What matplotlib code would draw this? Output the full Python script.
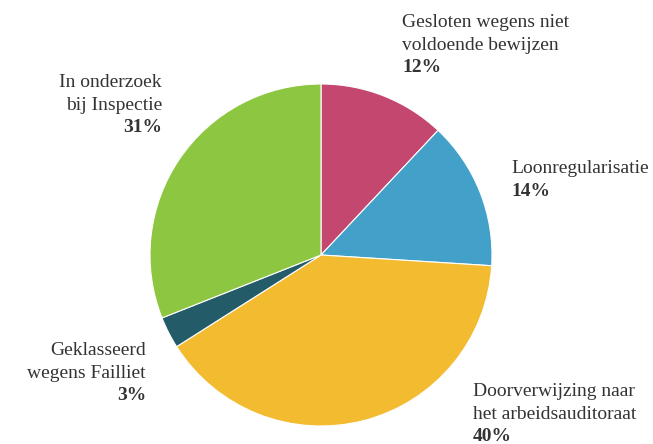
import matplotlib.pyplot as plt

# data
labels = ["Gesloten wegens niet\nvoldoende bewijzen", "Loonregularisatie",
          "Doorverwijzing naar\nhet arbeidsauditoraat", "Geklasseerd\nwegens Failliet",
          "In onderzoek\nbij Inspectie"]
values = [12, 14, 40, 3, 31]
colors = ["#C4476F", "#43A1C9", "#F2BB30", "#235B69", "#8DC640"]

W, H = 653, 444
fig = plt.figure(figsize=(W / 100, H / 100), dpi=100)

# pie centre and radius in pixels
cx, cy, r = 321, 255, 171
ax = fig.add_axes([(cx - r) / W, 1 - (cy + r) / H, 2 * r / W, 2 * r / H])
ax.pie(values, colors=colors, startangle=90, counterclock=False, radius=1,
       wedgeprops=dict(edgecolor="white", linewidth=0.8))
ax.set_xlim(-1, 1)
ax.set_ylim(-1, 1)
ax.axis("off")

# label placement: x, first baseline (pixels from top), alignment
label_pos = [(402, 27, "left"), (511, 173, "left"), (473, 396, "left"),
             (146, 355, "right"), (162, 87, "right")]
line_h = 22.5
font = "Liberation Serif"
txt_color = "#333333"

for lab, val, (x, y, ha) in zip(labels, values, label_pos):
    lines = lab.split("\n")
    for i, ln in enumerate(lines):
        fig.text(x / W, 1 - (y + i * line_h) / H, ln, ha=ha, va="baseline",
                 fontsize=14, family=font, color=txt_color)
    fig.text(x / W, 1 - (y + len(lines) * line_h) / H, f"{val}%", ha=ha,
             va="baseline", fontsize=14, family=font, weight="bold",
             color=txt_color)

fig.savefig("out.png", dpi=100)
